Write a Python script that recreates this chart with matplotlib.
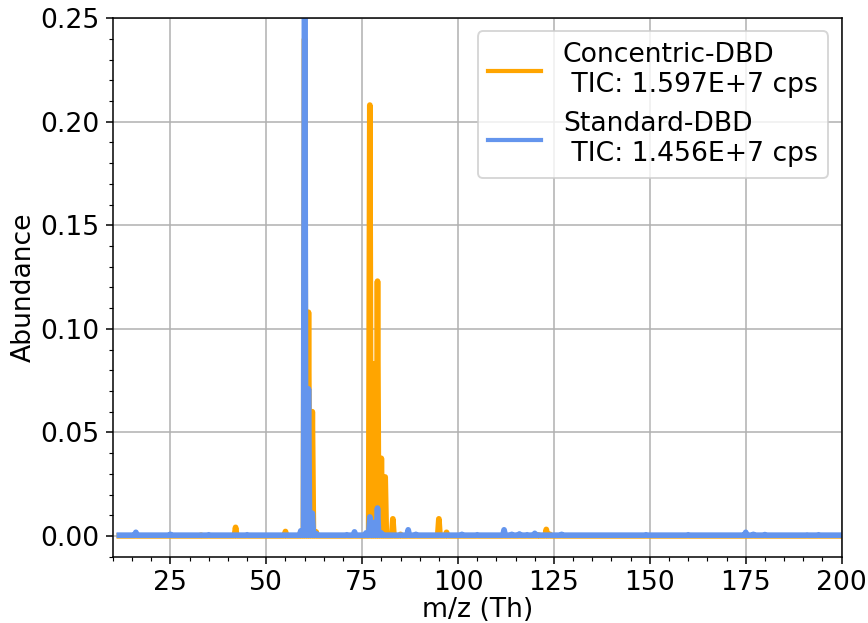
import matplotlib
matplotlib.use('Agg')
import matplotlib.pyplot as plt
from matplotlib.ticker import MultipleLocator
import numpy as np

# m/z axis (unit resolution) and baseline levels
mz = np.arange(12, 201)
conc_baseline = 0.0001
std_baseline = 0.0004

# Concentric-DBD peaks (m/z, abundance)
conc_peak_mz = [33, 42, 55, 59, 60, 61, 62, 63, 77, 78, 79, 80, 81, 83, 85,
                95, 97, 121, 123, 124]
conc_peak_val = [0.0004, 0.0042, 0.0022, 0.002, 0.24, 0.108, 0.060, 0.002,
                 0.208, 0.083, 0.123, 0.0375, 0.0285, 0.0083, 0.0008,
                 0.0083, 0.0018, 0.0005, 0.0032, 0.0008]

# Standard-DBD peaks (m/z, abundance)
std_peak_mz = [16, 25, 35, 45, 59, 60, 61, 62, 63, 71, 73, 76, 77, 78, 79, 80,
               87, 89, 101, 105, 112, 114, 116, 118, 120, 127, 149, 160, 175,
               177, 180, 191, 194]
std_peak_val = [0.0018, 0.0008, 0.0006, 0.0006, 0.0025, 0.30, 0.071, 0.011,
                0.0012, 0.0006, 0.0020, 0.0015, 0.0092, 0.0065, 0.0135, 0.0015,
                0.0030, 0.0008, 0.0008, 0.0006, 0.0030, 0.0008, 0.0010, 0.0006,
                0.0013, 0.0008, 0.0006, 0.0006, 0.0018, 0.0008, 0.0007, 0.0005,
                0.0006]

labels = ['Concentric-DBD\n TIC: 1.597E+7 cps', 'Standard-DBD\n TIC: 1.456E+7 cps']


def spectrum(peak_mz, peak_val, base):
    ab = np.full(mz.shape, base, dtype=float)
    for m, v in zip(peak_mz, peak_val):
        ab[mz == m] = max(v, base)
    return ab


def sticks(x, y, base, hw=0.3):
    # each unit mass drawn as a narrow peak returning to the baseline
    xs = np.column_stack([x - hw, x, x + hw]).ravel()
    ys = np.column_stack([np.full(y.shape, base), y, np.full(y.shape, base)]).ravel()
    return xs, ys


conc = spectrum(conc_peak_mz, conc_peak_val, conc_baseline)
std = spectrum(std_peak_mz, std_peak_val, std_baseline)

plt.rcParams['font.size'] = 14

dpi = 137
fig = plt.figure(figsize=(868 / dpi, 623 / dpi), dpi=dpi)
ax = fig.add_axes([0.130, 0.106, 0.8396, 0.865])

ax.plot(*sticks(mz, conc, conc_baseline), color='orange', lw=3, label=labels[0])
ax.plot(*sticks(mz, std, std_baseline), color='cornflowerblue', lw=3, label=labels[1])

ax.set_xlim(10, 200)
ax.set_ylim(-0.0101, 0.25)
ax.xaxis.set_major_locator(MultipleLocator(25))
ax.xaxis.set_minor_locator(MultipleLocator(5))
ax.yaxis.set_major_locator(MultipleLocator(0.05))
ax.yaxis.set_minor_locator(MultipleLocator(0.01))
ax.grid(True, which='major')
ax.set_axisbelow(True)

ax.set_xlabel('m/z (Th)', labelpad=0.5)
ax.set_ylabel('Abundance', labelpad=2)
leg = ax.legend(loc='upper right')
for line in leg.get_lines():
    line.set_linewidth(2.2)

fig.savefig('out.png', dpi=dpi)
